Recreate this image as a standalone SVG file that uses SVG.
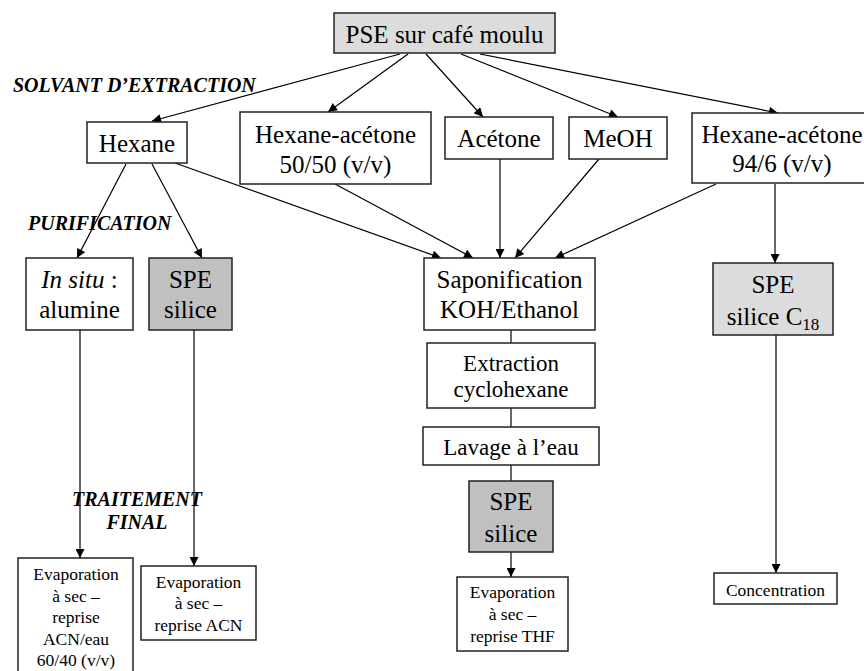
<svg xmlns="http://www.w3.org/2000/svg" width="864" height="671" viewBox="0 0 864 671">
<style>
.box{fill:#ffffff;stroke:#222;stroke-width:1.5}
.light{fill:#dcdcdc;stroke:#222;stroke-width:1.5}
.dark{fill:#c0c0c0;stroke:#222;stroke-width:1.5}
.t{font-family:"Liberation Serif","Times New Roman",serif;fill:#000;text-anchor:middle}
.l{font-size:25px}
.m{font-size:23px}
.s{font-size:17.5px}
.h{font-family:"Liberation Serif","Times New Roman",serif;font-size:20px;font-weight:bold;font-style:italic;fill:#000}
.c{stroke:#000;stroke-width:1.2;fill:none}
.a{marker-end:url(#arr)}
</style>
<defs>
<marker id="arr" viewBox="0 0 10 10" refX="10" refY="5" markerWidth="11" markerHeight="9" orient="auto" markerUnits="userSpaceOnUse">
<path d="M0,0 L10,5 L0,10 Z" fill="#000"/>
</marker>
</defs>
<rect width="864" height="671" fill="#ffffff"/>

<g id="connectors">
<line class="c a" x1="400" y1="54" x2="152" y2="121"/>
<line class="c a" x1="408" y1="54" x2="328" y2="112"/>
<line class="c a" x1="426" y1="54" x2="483" y2="117"/>
<line class="c a" x1="461" y1="54" x2="618" y2="117"/>
<line class="c a" x1="480" y1="54" x2="778" y2="113"/>
<line class="c a" x1="126" y1="164" x2="77" y2="258"/>
<line class="c a" x1="152" y1="164" x2="202" y2="258"/>
<line class="c a" x1="175" y1="163" x2="441" y2="258"/>
<line class="c a" x1="335" y1="184" x2="473" y2="258"/>
<line class="c a" x1="500" y1="159" x2="500" y2="258"/>
<line class="c a" x1="599" y1="159" x2="515" y2="258"/>
<line class="c a" x1="716" y1="184" x2="555" y2="258"/>
<line class="c a" x1="775" y1="184" x2="775" y2="263"/>
<line class="c a" x1="80" y1="330" x2="80" y2="558"/>
<line class="c a" x1="194" y1="330" x2="194" y2="566"/>
<line class="c" x1="511" y1="330" x2="511" y2="343"/>
<line class="c" x1="511" y1="408" x2="511" y2="427"/>
<line class="c" x1="511" y1="465" x2="511" y2="481"/>
<line class="c a" x1="511" y1="552" x2="511" y2="577"/>
<line class="c a" x1="776" y1="335" x2="776" y2="573"/>
</g>

<g id="labels">
<text class="h" x="13" y="92">SOLVANT D’EXTRACTION</text>
<text class="h" x="28" y="230">PURIFICATION</text>
<text class="h" x="137" y="506" text-anchor="middle">TRAITEMENT</text>
<text class="h" x="137" y="529" text-anchor="middle">FINAL</text>
</g>

<g id="pse">
<rect class="light" x="334" y="13" width="221" height="40"/>
<text class="t l" x="444.5" y="43">PSE sur café moulu</text>
</g>

<g id="hexane">
<rect class="box" x="87" y="122" width="100" height="41"/>
<text class="t l" x="137" y="152">Hexane</text>
</g>

<g id="hexane-acetone-50">
<rect class="box" x="240" y="112" width="191" height="72"/>
<text class="t l" x="335.5" y="143">Hexane-acétone</text>
<text class="t l" x="335.5" y="173">50/50 (v/v)</text>
</g>

<g id="acetone">
<rect class="box" x="445" y="117" width="108" height="42"/>
<text class="t l" x="499" y="147">Acétone</text>
</g>

<g id="meoh">
<rect class="box" x="569" y="117" width="98" height="42"/>
<text class="t l" x="618" y="147">MeOH</text>
</g>

<g id="hexane-acetone-94">
<rect class="box" x="692" y="113" width="180" height="70"/>
<text class="t l" x="782" y="143">Hexane-acétone</text>
<text class="t l" x="782" y="172">94/6 (v/v)</text>
</g>

<g id="in-situ">
<rect class="box" x="26" y="258" width="107" height="72"/>
<text class="t l" x="79.5" y="288"><tspan font-style="italic">In situ</tspan> :</text>
<text class="t l" x="79.5" y="318">alumine</text>
</g>

<g id="spe-silice-1">
<rect class="dark" x="149" y="258" width="83" height="72"/>
<text class="t l" x="190.5" y="288">SPE</text>
<text class="t l" x="190.5" y="318">silice</text>
</g>

<g id="saponification">
<rect class="box" x="424" y="258" width="171" height="72"/>
<text class="t l" x="509.5" y="288">Saponification</text>
<text class="t l" x="509.5" y="318">KOH/Ethanol</text>
</g>

<g id="spe-c18">
<rect class="light" x="713" y="263" width="120" height="72"/>
<text class="t l" x="773" y="293">SPE</text>
<text class="t l" x="773" y="325">silice C<tspan font-size="17px" dy="5">18</tspan></text>
</g>

<g id="extraction">
<rect class="box" x="427" y="343" width="168" height="65"/>
<text class="t m" x="511" y="371">Extraction</text>
<text class="t m" x="511" y="397">cyclohexane</text>
</g>

<g id="lavage">
<rect class="box" x="423" y="427" width="176" height="38"/>
<text class="t m" x="511" y="455">Lavage à l’eau</text>
</g>

<g id="spe-silice-2">
<rect class="dark" x="469" y="481" width="84" height="71"/>
<text class="t l" x="511" y="510">SPE</text>
<text class="t l" x="511" y="542">silice</text>
</g>

<g id="evap-1">
<rect class="box" x="18" y="558" width="115" height="120"/>
<text class="t s" x="76" y="580">Evaporation</text>
<text class="t s" x="76" y="602">à sec –</text>
<text class="t s" x="76" y="623">reprise</text>
<text class="t s" x="76" y="645">ACN/eau</text>
<text class="t s" x="76" y="666">60/40 (v/v)</text>
</g>

<g id="evap-2">
<rect class="box" x="141" y="566" width="115" height="74"/>
<text class="t s" x="198.5" y="588">Evaporation</text>
<text class="t s" x="198.5" y="609">à sec –</text>
<text class="t s" x="198.5" y="631">reprise ACN</text>
</g>

<g id="evap-3">
<rect class="box" x="457" y="577" width="111" height="74"/>
<text class="t s" x="512.5" y="598">Evaporation</text>
<text class="t s" x="512.5" y="620">à sec –</text>
<text class="t s" x="512.5" y="642">reprise THF</text>
</g>

<g id="concentration">
<rect class="box" x="714" y="573" width="123" height="31"/>
<text class="t s" x="775.5" y="596">Concentration</text>
</g>
</svg>
